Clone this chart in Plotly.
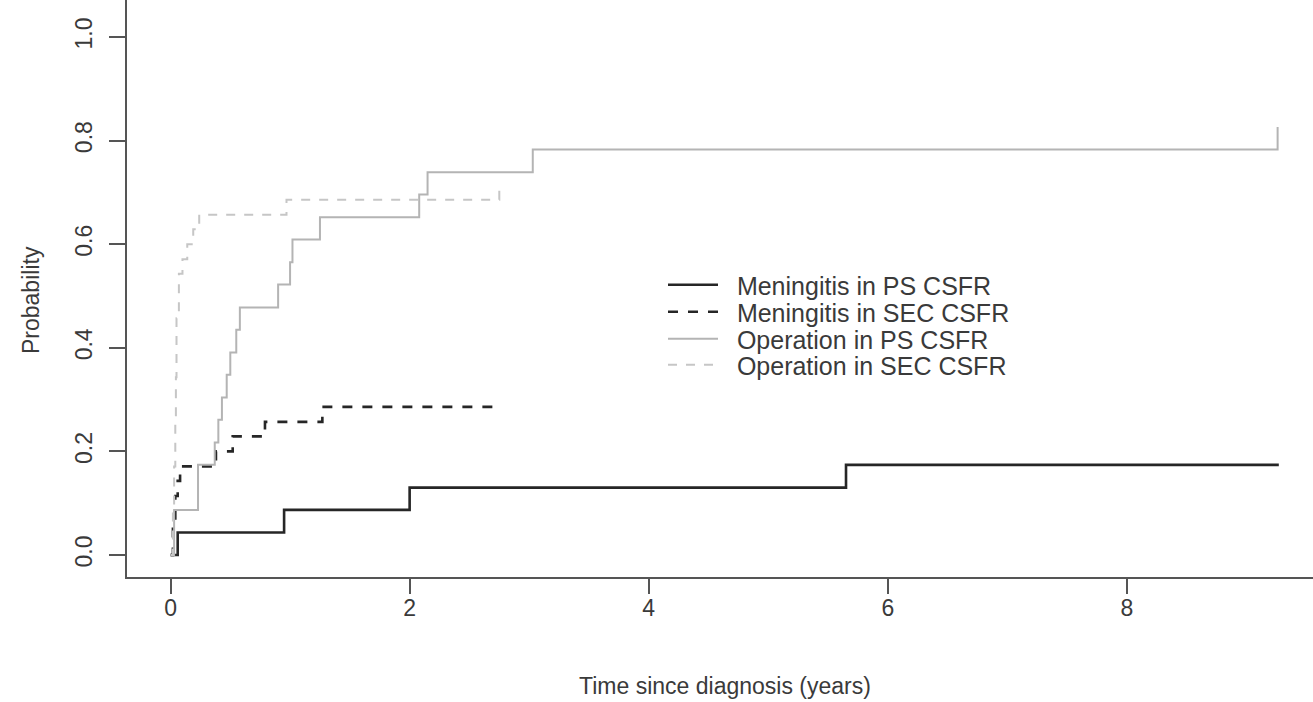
import plotly.graph_objects as go

# Step-curve data (cumulative probability)
men_ps_x = [0.0, 0.06, 0.95, 2.0, 5.65, 9.27]
men_ps_y = [0.0, 0.0435, 0.087, 0.130, 0.174, 0.174]

men_sec_x = [0.0, 0.02, 0.04, 0.06, 0.08, 0.38, 0.52, 0.79, 1.27, 2.75]
men_sec_y = [0.0, 0.057, 0.114, 0.143, 0.171, 0.200, 0.229, 0.257, 0.286, 0.286]

op_ps_x = [0.0, 0.03, 0.23, 0.37, 0.40, 0.43, 0.47, 0.50, 0.55, 0.58, 0.90, 1.00, 1.02,
           1.25, 2.08, 2.15, 3.03, 9.26]
op_ps_y = [0.0, 0.087, 0.174, 0.217, 0.261, 0.304, 0.348, 0.391, 0.435, 0.478, 0.522, 0.565,
           0.609, 0.652, 0.696, 0.739, 0.783, 0.826]

op_sec_x = [0.0, 0.02, 0.03, 0.04, 0.045, 0.05, 0.07, 0.10, 0.14, 0.19, 0.24, 0.97, 2.75]
op_sec_y = [0.0, 0.086, 0.171, 0.257, 0.343, 0.457, 0.543, 0.571, 0.600, 0.629, 0.657, 0.686, 0.714]

x_ticks = [0, 2, 4, 6, 8]
y_ticks = [0.0, 0.2, 0.4, 0.6, 0.8, 1.0]
y_tick_text = ["0.0", "0.2", "0.4", "0.6", "0.8", "1.0"]

names = ["Meningitis in PS CSFR", "Meningitis in SEC CSFR",
         "Operation in PS CSFR", "Operation in SEC CSFR"]
x_title = "Time since diagnosis (years)"
y_title = "Probability"

FONT = "Liberation Sans, Arial, sans-serif"
TXT = "#3a3a3a"
AX = "#555555"

# plot area in pixels: left 127, right 1313, top 0, bottom 577
L, R, T, B = 127, 1313, 0, 577
W, H = R - L, B - T
def px_x(p):
    return (p - L) / W
def px_y(p):
    return (B - p) / H

NB = "\u00a0\u00a0"  # small gap between legend line and its text

fig = go.Figure()
series = [
    (men_ps_x, men_ps_y, names[0], "#262626", 2.6, "solid"),
    (men_sec_x, men_sec_y, names[1], "#262626", 2.6, "10px,10px"),
    (op_ps_x, op_ps_y, names[2], "#b4b4b4", 2.0, "solid"),
    (op_sec_x, op_sec_y, names[3], "#c6c6c6", 2.0, "9px,9px"),
]
legend_keys = ["legend", "legend2", "legend3", "legend4"]
legend_rows = [285, 312, 339, 365]
for i, (xs, ys, nm, col, w, dash) in enumerate(series):
    fig.add_trace(go.Scatter(
        x=xs, y=ys, name=NB + nm, mode="lines",
        line=dict(shape="hv", color=col, width=w, dash=dash),
        legend=legend_keys[i],
    ))

leg_common = dict(
    x=px_x(663), xanchor="left", yanchor="middle",
    bgcolor="rgba(0,0,0,0)", borderwidth=0,
    font=dict(family=FONT, size=25, color=TXT),
    itemwidth=50,
)
legends = {}
for k, row in zip(legend_keys, legend_rows):
    legends[k] = dict(leg_common, y=px_y(row))

fig.update_layout(
    width=1313, height=702,
    paper_bgcolor="white", plot_bgcolor="white",
    margin=dict(l=L, r=1313 - R, t=T, b=702 - B, autoexpand=False),
    font=dict(family=FONT, size=24, color=TXT),
    showlegend=True,
    **legends,
    xaxis=dict(
        range=[-0.364, 9.556], tickmode="array", tickvals=x_ticks,
        ticks="outside", ticklen=15, tickwidth=1.5, tickcolor=AX,
        showline=True, linecolor=AX, linewidth=1.5, mirror=False,
        showgrid=False, zeroline=False, automargin=False,
        ticklabelstandoff=-5,
        tickfont=dict(family=FONT, size=23, color=TXT),
    ),
    yaxis=dict(
        range=[-0.0425, 1.0714], tickmode="array", tickvals=y_ticks, ticktext=y_tick_text,
        ticks="outside", ticklen=16, tickwidth=1.5, tickcolor=AX,
        showline=True, linecolor=AX, linewidth=1.5, mirror=False,
        showgrid=False, zeroline=False, tickangle=-90, automargin=False,
        ticklabelstandoff=8,
        tickfont=dict(family=FONT, size=23, color=TXT),
    ),
    annotations=[
        dict(text=x_title, xref="paper", yref="paper", x=px_x(725), y=px_y(686),
             xanchor="center", yanchor="middle", showarrow=False,
             font=dict(family=FONT, size=23, color=TXT)),
        dict(text=y_title, xref="paper", yref="paper", x=px_x(31), y=px_y(300),
             xanchor="center", yanchor="middle", showarrow=False, textangle=-90,
             font=dict(family=FONT, size=23, color=TXT)),
    ],
)

fig.write_html("out.html", post_script="document.body.style.margin='0px';",
               config={"displayModeBar": False})
